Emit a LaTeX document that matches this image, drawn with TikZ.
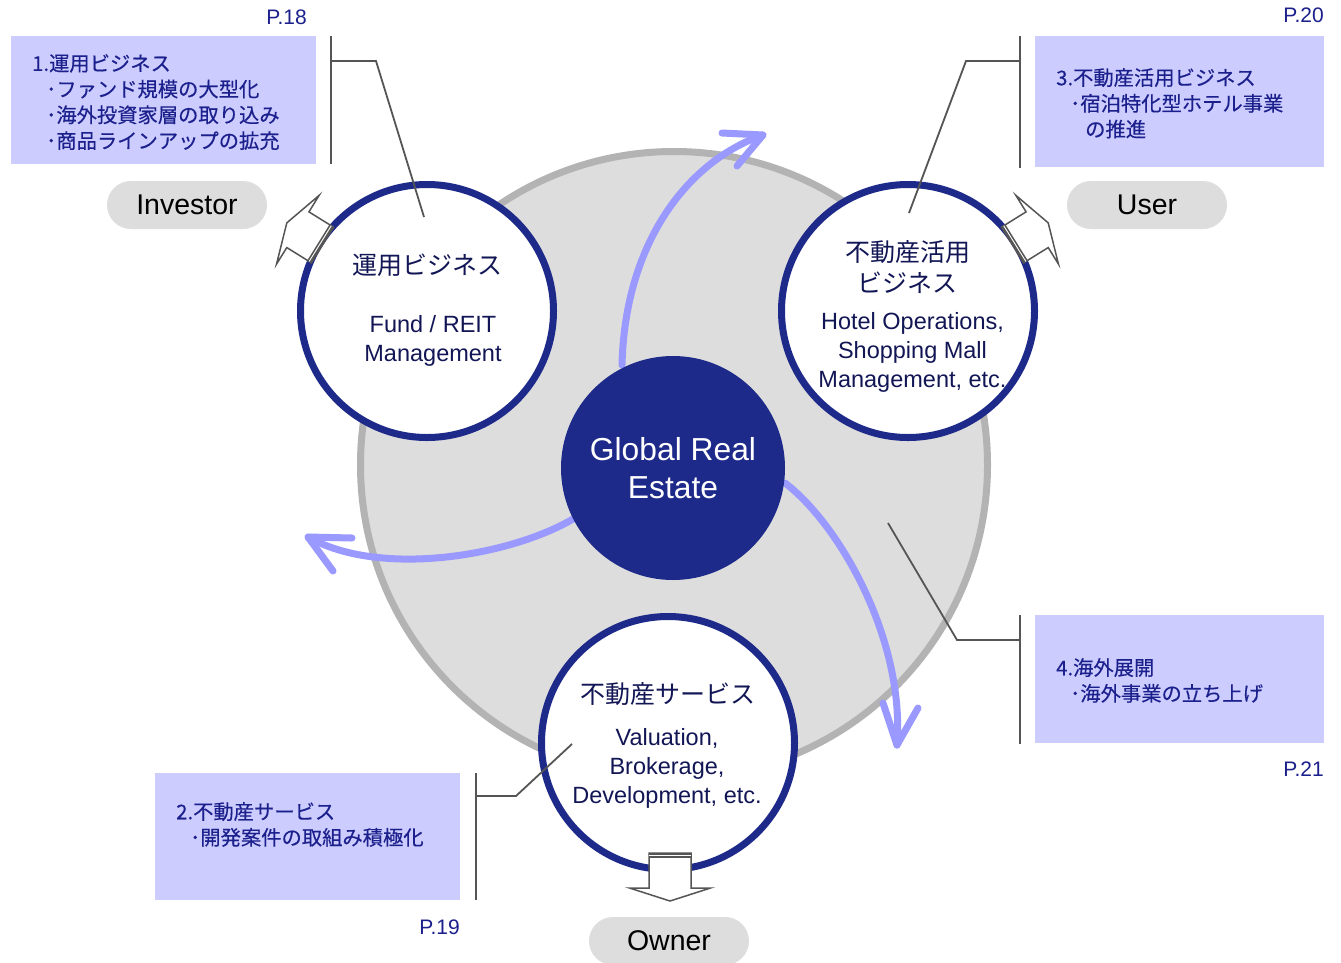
\documentclass[tikz,border=0pt]{standalone}
\usepackage{fontspec}
\setmainfont{Liberation Sans}
\newfontfamily\jp{Noto Sans CJK JP}
\newfontfamily\jpbox[FakeBold=0.35]{Noto Sans CJK JP}
\definecolor{navy}{RGB}{30,42,138}
\definecolor{ringgray}{RGB}{179,179,179}
\definecolor{discgray}{RGB}{221,221,221}
\definecolor{boxblue}{RGB}{204,204,255}
\definecolor{txtblue}{RGB}{28,32,140}
\definecolor{flowpurple}{RGB}{153,153,255}
\definecolor{linegray}{RGB}{85,85,85}
\definecolor{circtext}{RGB}{18,22,85}
\tikzset{
  disc/.style={circle,fill=discgray,draw=ringgray,line width=7pt,minimum size=627pt,inner sep=0pt},
  core/.style={circle,fill=navy,minimum size=224pt,inner sep=0pt,text=white,align=center,font=\fontsize{31.8}{38}\selectfont},
  bizcircle/.style={circle,fill=white,draw=navy,line width=7pt,minimum size=253pt,inner sep=0pt},
  jptitle/.style={inner sep=0pt,text=circtext,font=\jp\fontsize{25}{31}\selectfont,align=center},
  entext/.style={inner sep=0pt,text=circtext,font=\fontsize{23.5}{29}\selectfont,align=center},
  pill/.style={fill=discgray,rounded corners=24pt,minimum width=160pt,minimum height=48pt,inner sep=0pt,font=\fontsize{28.5}{34}\selectfont},
  infobox/.style={fill=boxblue,inner sep=0pt,anchor=north west},
  boxtext/.style={inner sep=0pt,anchor=north west,align=left,text=txtblue,font=\jpbox\fontsize{20.3}{25.8}\selectfont},
  pagelabel/.style={inner sep=0pt,anchor=east,text=txtblue,font=\fontsize{21}{25}\selectfont},
  bracket/.style={draw=linegray,line width=1.8pt},
  flow/.style={draw=flowpurple,line width=7pt,line cap=round,line join=round},
  blockarrow/.style={draw=linegray,fill=white,line width=1.5pt,line join=miter}
}
\newcommand{\blkarrow}[4]{%
  \begin{scope}[shift={(#1,#2)},rotate=#3]
    \draw[blockarrow] (0,-21) -- (#4,-21) -- (#4,-40.5) -- ({#4+13},0) -- (#4,40.5) -- (#4,21) -- (0,21) -- cycle;
    \fill[linegray] (0,-21) rectangle (4.8,21);
    \draw[white,line width=0.9pt] (2.7,-21) -- (2.7,21);
  \end{scope}}
\begin{document}
\begin{tikzpicture}[x=1pt,y=-1pt]
\useasboundingbox[fill=white] (0,0) rectangle (1341,962);
% big disc
\node[disc] (world) at (674,465) {};
% flow arrows
\coordinate (f1s) at (622,365);
\coordinate (f1t) at (763,135);
\coordinate (f1a) at (722,133);
\coordinate (f1b) at (737,166);
\coordinate (f2s) at (573,519);
\coordinate (f2t) at (308,537);
\coordinate (f2a) at (352,538);
\coordinate (f2b) at (333,571);
\coordinate (f3s) at (785,483);
\coordinate (f3t) at (897,745);
\coordinate (f3a) at (918,708);
\coordinate (f3b) at (883,703);
\draw[flow] (f1s) .. controls (625,240) and (690,160) .. (f1t);
\draw[flow] (f1a) -- (f1t) -- (f1b);
\draw[flow] (f2s) .. controls (510,556) and (380,578) .. (f2t);
\draw[flow] (f2a) -- (f2t) -- (f2b);
\draw[flow] (f3s) .. controls (840,525) and (905,640) .. (f3t);
\draw[flow] (f3a) -- (f3t) -- (f3b);
% core
\node[core] (core) at (673,468) {Global Real\\Estate};
% business circles
\node[bizcircle] (fund) at (427,311) {};
\node[bizcircle] (use) at (908,311) {};
\node[bizcircle] (serv) at (668,743) {};
% block arrows
\blkarrow{322.5}{245}{148.2}{29}
\blkarrow{1012.5}{245}{31.8}{29}
\blkarrow{670}{853}{-90}{35}
% circle texts
\node[jptitle] (fundjp) at (427,265) {運用ビジネス};
\node[entext] (funden) at (433,340.5) {Fund / REIT\\Management};
\node[jptitle] (usejp) at (907.5,267.5) {不動産活用\\ビジネス};
\node[entext] (useen) at (912.5,352) {Hotel Operations,\\Shopping Mall\\Management, etc.};
\node[jptitle] (servjp) at (667.5,694) {不動産サービス};
\node[entext] (serven) at (667,768) {Valuation,\\Brokerage,\\Development, etc.};
% pills
\node[pill] (investor) at (187,205) {Investor};
\node[pill] (user) at (1147,205) {User};
\node[pill] (owner) at (669,941) {Owner};
% info boxes
\node[infobox,minimum width=305pt,minimum height=128pt] (box1) at (11,36) {};
\node[infobox,minimum width=289pt,minimum height=131pt] (box3) at (1035,36) {};
\node[infobox,minimum width=289pt,minimum height=128pt] (box4) at (1035,615) {};
\node[infobox,minimum width=305pt,minimum height=127pt] (box2) at (155,773) {};
\node[boxtext] (box1t) at (32,54) {1.運用ビジネス\\\hspace*{14pt}･ファンド規模の大型化\\\hspace*{14pt}･海外投資家層の取り込み\\\hspace*{14pt}･商品ラインアップの拡充};
\node[boxtext] (box3t) at (1056,68) {3.不動産活用ビジネス\\\hspace*{14pt}･宿泊特化型ホテル事業\\\hspace*{29pt}の推進};
\node[boxtext] (box4t) at (1056,658) {4.海外展開\\\hspace*{14pt}･海外事業の立ち上げ};
\node[boxtext] (box2t) at (176,802) {2.不動産サービス\\\hspace*{14pt}･開発案件の取組み積極化};
% page labels
\node[pagelabel] (p18) at (307,17) {P.18};
\node[pagelabel] (p20) at (1324,15) {P.20};
\node[pagelabel] (p21) at (1324,769) {P.21};
\node[pagelabel] (p19) at (460,927) {P.19};
% brackets
\coordinate (k1a) at (331,36);
\coordinate (k1b) at (331,164);
\coordinate (k1c) at (331,61);
\coordinate (k1d) at (376,61);
\coordinate (k1e) at (424,217);
\draw[bracket] (k1a) -- (k1b);
\draw[bracket] (k1c) -- (k1d) -- (k1e);
\coordinate (k3a) at (1020,36);
\coordinate (k3b) at (1020,168);
\coordinate (k3c) at (1020,61);
\coordinate (k3d) at (966,61);
\coordinate (k3e) at (909,213);
\draw[bracket] (k3a) -- (k3b);
\draw[bracket] (k3c) -- (k3d) -- (k3e);
\coordinate (k4a) at (1020,615);
\coordinate (k4b) at (1020,744);
\coordinate (k4c) at (1020,640);
\coordinate (k4d) at (957,640);
\coordinate (k4e) at (888,523);
\draw[bracket] (k4a) -- (k4b);
\draw[bracket] (k4c) -- (k4d) -- (k4e);
\coordinate (k2a) at (476,773);
\coordinate (k2b) at (476,900);
\coordinate (k2c) at (476,796);
\coordinate (k2d) at (516,796);
\coordinate (k2e) at (572,744);
\draw[bracket] (k2a) -- (k2b);
\draw[bracket] (k2c) -- (k2d) -- (k2e);
\end{tikzpicture}
\end{document}
